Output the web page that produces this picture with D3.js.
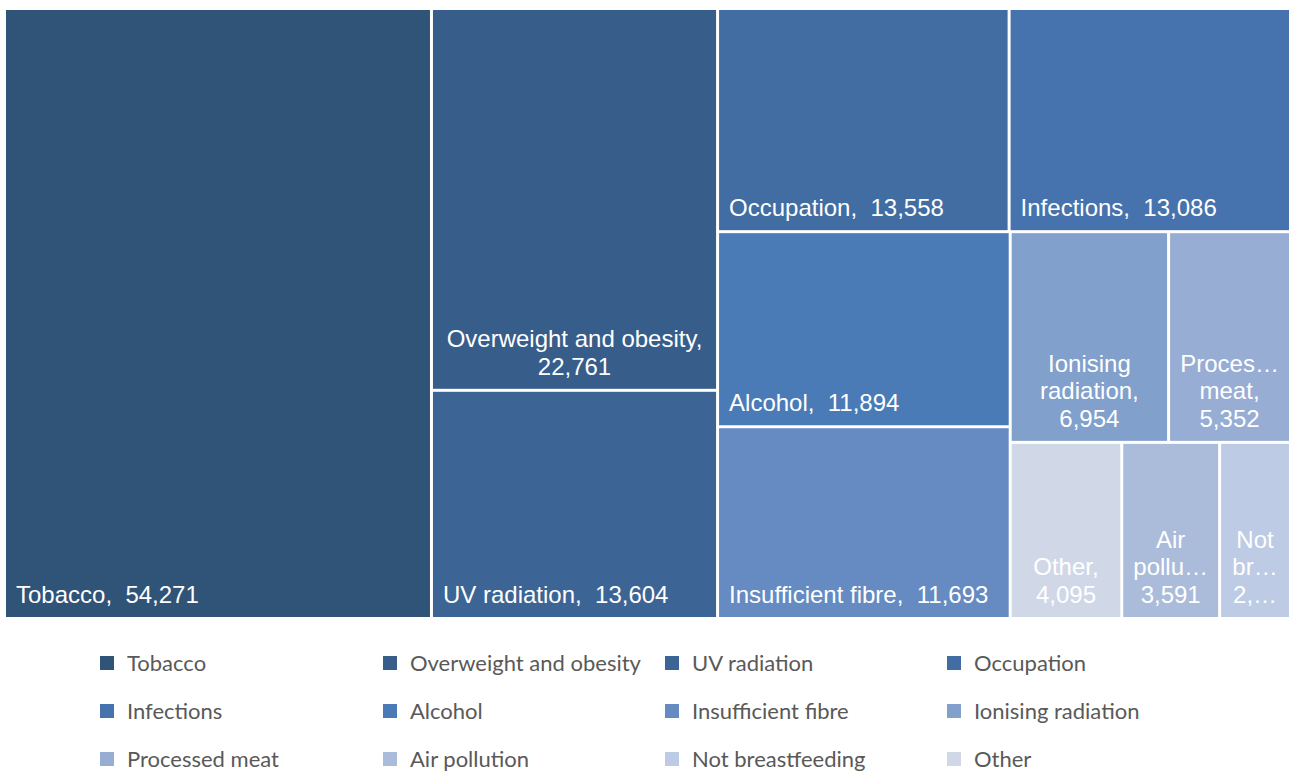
<!DOCTYPE html>
<html>
<head>
<meta charset="utf-8">
<script src="https://cdn.jsdelivr.net/npm/d3@7"></script>
<style>
  body { margin: 0; background: #fff; }
  text.lbl { white-space: pre; }
</style>
</head>
<body>
<svg id="chart"></svg>
<script>
// risk factors, in legend order
const categories = [
  'Tobacco', 'Overweight and obesity', 'UV radiation', 'Occupation',
  'Infections', 'Alcohol', 'Insufficient fibre', 'Ionising radiation',
  'Processed meat', 'Air pollution', 'Not breastfeeding', 'Other'
];
const values = [54271, 22761, 13604, 13558, 13086, 11894, 11693, 6954, 5352, 3591, 2602, 4095];
const colors = [
  '#305378', '#375d8a', '#3c6494', '#426da2',
  '#4673ad', '#4a7bb7', '#658bc2', '#82a0cc',
  '#97add4', '#abbcda', '#bdcbe4', '#d0d8e8'
];

// squarify (ratio 1), but the last few nodes go in one strip along the longer side
function tile(parent, x0, y0, x1, y1) {
  const nodes = parent.children;
  const n = nodes.length;
  let value = parent.value;
  let i0 = 0, i1 = 0;
  while (i0 < n) {
    const dx = x1 - x0, dy = y1 - y0;
    let sumValue;
    if (n - i0 <= 3) {
      sumValue = d3.sum(nodes.slice(i0), d => d.value);
      i1 = n;
      const row = { value: sumValue, children: nodes.slice(i0, i1) };
      if (dx >= dy) d3.treemapDice(row, x0, y0, x1, y1);
      else d3.treemapSlice(row, x0, y0, x1, y1);
      break;
    }
    sumValue = nodes[i1++].value;
    let minValue = sumValue, maxValue = sumValue;
    const alpha = Math.max(dy / dx, dx / dy) / value;
    let beta = sumValue * sumValue * alpha;
    let minRatio = Math.max(maxValue / beta, beta / minValue);
    for (; i1 < n; ++i1) {
      const v = nodes[i1].value;
      sumValue += v;
      if (v < minValue) minValue = v;
      if (v > maxValue) maxValue = v;
      beta = sumValue * sumValue * alpha;
      const newRatio = Math.max(maxValue / beta, beta / minValue);
      if (newRatio > minRatio) { sumValue -= v; break; }
      minRatio = newRatio;
    }
    const row = { value: sumValue, children: nodes.slice(i0, i1) };
    if (dx < dy) d3.treemapDice(row, x0, y0, x1, y0 += dy * sumValue / value);
    else d3.treemapSlice(row, x0, y0, x0 += dx * sumValue / value, y1);
    value -= sumValue;
    i0 = i1;
  }
}

const createChart = () => {
  const width = 1290;
  const height = 771;
  const fmt = d3.format(',');
  const labelFont = '"Liberation Sans", Arial, sans-serif';
  const labelSize = 24;
  const pad = 9;
  const lineH = 27.5;

  const svg = d3.select('#chart')
    .attr('width', width)
    .attr('height', height);

  const root = d3.hierarchy({ children: categories.map((name, i) => ({ name, value: values[i], color: colors[i] })) })
    .sum(d => d.value || 0)
    .sort((a, b) => b.value - a.value);

  d3.treemap()
    .tile(tile)
    .size([1283, 607])
    .paddingInner(3)(root);

  const g = svg.append('g').attr('transform', 'translate(6,10)');

  // hidden text used to measure label widths
  const measurer = svg.append('text')
    .attr('class', 'lbl')
    .attr('font-family', labelFont)
    .attr('font-size', labelSize)
    .style('visibility', 'hidden');
  const tw = s => { measurer.text(s); return measurer.node().getComputedTextLength(); };

  const fit = (s, max) => {
    if (tw(s) <= max) return s;
    let n = s.length - 1;
    while (n > 1 && tw(s.slice(0, n) + '…') > max) n--;
    return s.slice(0, n) + '…';
  };

  const cell = g.selectAll('g')
    .data(root.leaves())
    .join('g')
    .attr('transform', d => `translate(${d.x0},${d.y0})`);

  cell.append('rect')
    .attr('width', d => d.x1 - d.x0)
    .attr('height', d => d.y1 - d.y0)
    .attr('fill', d => d.data.color);

  cell.each(function(d) {
    const w = d.x1 - d.x0;
    const h = d.y1 - d.y0;
    const max = w - 2 * pad;
    const name = d.data.name + ',';
    const val = fmt(d.data.value);
    const text = d3.select(this).append('text')
      .attr('class', 'lbl')
      .attr('font-family', labelFont)
      .attr('font-size', labelSize)
      .attr('fill', '#fff');

    const single = name + '  ' + val;
    if (tw(single) <= w - 20) {
      text.attr('x', 10).attr('y', h - 14).text(single);
      return;
    }
    // wrap name word by word, value on its own line
    const lines = [];
    let cur = '';
    name.split(' ').forEach(word => {
      const next = cur ? cur + ' ' + word : word;
      if (cur && tw(next) > max) {
        lines.push(cur);
        cur = word;
      } else {
        cur = next;
      }
    });
    lines.push(cur);
    lines.push(val);
    const out = lines.map(l => fit(l, max));
    text.attr('text-anchor', 'middle');
    out.forEach((l, i) => {
      text.append('tspan')
        .attr('x', w / 2)
        .attr('y', h - 14 - (out.length - 1 - i) * lineH)
        .text(l);
    });
  });

  measurer.remove();

  // legend, 4 columns x 3 rows
  const colX = [100, 383, 665, 947];
  const rowY = [663, 711, 759];
  const legend = svg.append('g')
    .selectAll('g')
    .data(categories)
    .join('g')
    .attr('transform', (d, i) => `translate(${colX[i % 4]},${rowY[Math.floor(i / 4)]})`);

  legend.append('rect')
    .attr('x', 0)
    .attr('y', -7)
    .attr('width', 14)
    .attr('height', 14)
    .attr('fill', (d, i) => colors[i]);

  legend.append('text')
    .attr('x', 27)
    .attr('dy', '0.35em')
    .attr('font-family', 'Lato, "Open Sans", sans-serif')
    .attr('font-size', 22)
    .attr('fill', '#595959')
    .text(d => d);
};

window.addEventListener('DOMContentLoaded', () => {
  createChart();
});
</script>
</body>
</html>
